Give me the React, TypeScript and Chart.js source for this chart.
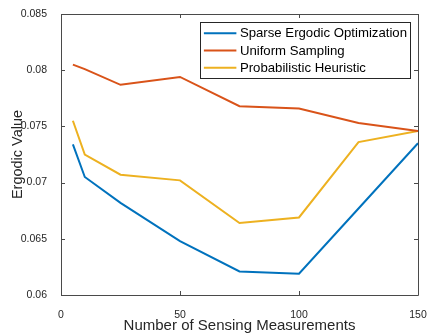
import { useEffect, useRef } from 'react';
import { Chart, registerables } from 'chart.js';

Chart.register(...registerables);

// Number of sensing measurements (x values)
const measurements = [5, 10, 25, 50, 75, 100, 125, 150];

// Ergodic values per method
const sparseErgodic = [0.0734, 0.0705, 0.0682, 0.0648, 0.0621, 0.0619, 0.0677, 0.0735];
const uniformSampling = [0.0805, 0.0801, 0.0787, 0.0794, 0.0768, 0.0766, 0.0753, 0.0746];
const probabilistic = [0.0755, 0.0725, 0.0707, 0.0702, 0.0664, 0.0669, 0.0736, 0.0746];

const seriesLabels = ['Sparse Ergodic Optimization', 'Uniform Sampling', 'Probabilistic Heuristic'];
const seriesColors = ['#0072BD', '#D95319', '#EDB120'];

const xTicks = [0, 50, 100, 150];
const yTicks = [0.06, 0.065, 0.07, 0.075, 0.08, 0.085];

const FONT = '"Liberation Sans", Arial, Helvetica, sans-serif';
const AXIS_COLOR = '#262626';

// Draws a box around the plot area with inward tick marks on all four sides
const boxAxesPlugin = {
  id: 'boxAxes',
  afterDatasetsDraw(chart: any) {
    const { ctx, chartArea, scales } = chart;
    const { left, right, top, bottom } = chartArea;
    const tl = 4;
    ctx.save();
    ctx.strokeStyle = '#4a4a4a';
    ctx.lineWidth = 1;
    ctx.beginPath();
    ctx.rect(Math.round(left) + 0.5, Math.round(top) + 0.5, Math.round(right - left), Math.round(bottom - top));
    ctx.stroke();
    ctx.beginPath();
    for (const v of xTicks) {
      const px = Math.round(scales.x.getPixelForValue(v)) + 0.5;
      ctx.moveTo(px, bottom);
      ctx.lineTo(px, bottom - tl);
      ctx.moveTo(px, top);
      ctx.lineTo(px, top + tl);
    }
    for (const v of yTicks) {
      const py = Math.round(scales.y.getPixelForValue(v)) + 0.5;
      ctx.moveTo(left, py);
      ctx.lineTo(left + tl, py);
      ctx.moveTo(right, py);
      ctx.lineTo(right - tl, py);
    }
    ctx.stroke();
    ctx.restore();
  },
};

// Boxed legend in the upper right corner of the plot area
const boxLegendPlugin = {
  id: 'boxLegend',
  afterDraw(chart: any) {
    const { ctx, chartArea } = chart;
    const datasets = chart.data.datasets;
    const boxRight = chartArea.right - 7.5;
    const boxTop = chartArea.top + 8;
    const rowH = 17.3;
    const lineLen = 32.5;
    const gap = 3.5;
    const padX = 3.5;
    ctx.save();
    ctx.font = `13.2px ${FONT}`;
    let maxW = 0;
    for (const ds of datasets) maxW = Math.max(maxW, ctx.measureText(ds.label).width);
    const boxW = padX + lineLen + gap + maxW + padX;
    const boxH = rowH * datasets.length + 4.5;
    const boxLeft = boxRight - boxW;
    ctx.fillStyle = '#ffffff';
    ctx.fillRect(boxLeft, boxTop, boxW, boxH);
    ctx.strokeStyle = '#262626';
    ctx.lineWidth = 1;
    ctx.strokeRect(Math.round(boxLeft) + 0.5, Math.round(boxTop) + 0.5, Math.round(boxW), Math.round(boxH));
    datasets.forEach((ds: any, i: number) => {
      const cy = boxTop + 2.5 + rowH * (i + 0.5);
      ctx.strokeStyle = ds.borderColor;
      ctx.lineWidth = 2;
      ctx.beginPath();
      ctx.moveTo(boxLeft + padX, cy);
      ctx.lineTo(boxLeft + padX + lineLen, cy);
      ctx.stroke();
      ctx.fillStyle = '#000000';
      ctx.textBaseline = 'middle';
      ctx.textAlign = 'left';
      ctx.fillText(ds.label, boxLeft + padX + lineLen + gap, cy + 0.5);
    });
    ctx.restore();
  },
};

export default function App() {
  const canvasRef = useRef<HTMLCanvasElement | null>(null);

  useEffect(() => {
    document.body.style.margin = '0';
    const canvas = canvasRef.current;
    if (!canvas) return;
    const seriesValues = [sparseErgodic, uniformSampling, probabilistic];
    const chart = new Chart(canvas, {
      type: 'line',
      data: {
        datasets: seriesValues.map((vals, i) => ({
          label: seriesLabels[i],
          data: measurements.map((x, j) => ({ x, y: vals[j] })),
          borderColor: seriesColors[i],
          backgroundColor: seriesColors[i],
          borderWidth: 2,
          pointRadius: 0,
          tension: 0,
          fill: false,
        })),
      },
      options: {
        animation: false,
        responsive: false,
        maintainAspectRatio: false,
        layout: { padding: { top: 14, right: 10, left: 0, bottom: 0 } },
        plugins: {
          legend: { display: false },
          tooltip: { enabled: false },
        },
        scales: {
          x: {
            type: 'linear',
            min: 0,
            max: 150,
            afterFit: (s: any) => {
              s.height = 40;
              s.paddingLeft = 0;
              s.paddingRight = 0;
            },
            afterBuildTicks: (s: any) => { s.ticks = xTicks.map((v) => ({ value: v })); },
            grid: { display: false },
            border: { display: false },
            ticks: {
              padding: 6,
              color: AXIS_COLOR,
              font: { family: FONT, size: 10.5 },
              maxRotation: 0,
            },
            title: {
              display: true,
              text: 'Number of Sensing Measurements',
              color: AXIS_COLOR,
              font: { family: FONT, size: 15 },
              padding: { top: 0, bottom: 0 },
            },
          },
          y: {
            type: 'linear',
            min: 0.06,
            max: 0.085,
            afterFit: (s: any) => {
              s.width = 61;
              s.paddingTop = 0;
              s.paddingBottom = 0;
            },
            afterBuildTicks: (s: any) => { s.ticks = yTicks.map((v) => ({ value: v })); },
            grid: { display: false },
            border: { display: false },
            ticks: {
              padding: 6,
              color: AXIS_COLOR,
              font: { family: FONT, size: 10.5 },
              callback: (v: any) => String(Number(Number(v).toFixed(3))),
            },
            title: {
              display: true,
              text: 'Ergodic Value',
              color: AXIS_COLOR,
              font: { family: FONT, size: 14.5 },
              padding: { top: 9, bottom: 0 },
            },
          },
        },
      },
      plugins: [boxAxesPlugin, boxLegendPlugin],
    });
    return () => chart.destroy();
  }, []);

  return (
    <div style={{ width: 428, height: 335, background: '#ffffff' }}>
      <canvas ref={canvasRef} width={428} height={335} style={{ display: 'block' }} />
    </div>
  );
}
